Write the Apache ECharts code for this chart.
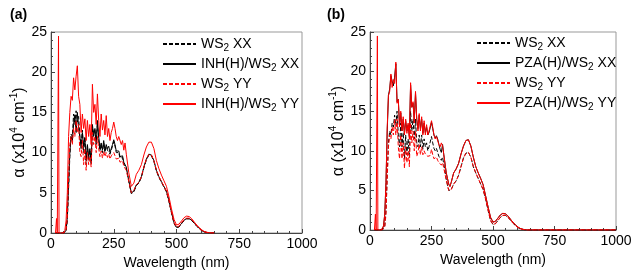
<!DOCTYPE html>
<html><head><meta charset="utf-8">
<script src="https://cdn.jsdelivr.net/npm/echarts@6/dist/echarts.min.js"></script>
<style>html,body{margin:0;padding:0;background:#fff}#c{width:640px;height:280px}</style>
</head><body><div id="c"></div>
<script>
// Wavelength grid (nm)
var wavelength = [18,22,25,28,30,32,35,
 40,45,50,55,60,65,70,75,80,85, 90,95,100,105,110,115,120,125,130,135,
 140,145,150,155,160,165,170,175,180,185, 190,195,200,205,210,215,220,225,230,235,
 240,245,250,255,260,265,270,275,280,285, 290,295,300,
 310,320,325,330,340,350,360,370,380,390, 400,410,420,430,440,450,460,470,480,490,
 500,510,520,530,540,550,560,570,580,590, 600,610,620,630,640,650,
 700,800,900,1000];

// Panel (a)
var aWs2XX = [0,0,0,0,0,0,0,
 0,0,0,0,0.2,1.5,5.5,9.5,12.3,12, 14.8,13.5,15.2,13.8,14.5,12,11,12.8,10,12,
 8.5,10.8,9,10.2,8.5,13,12.5,12.8,11.5,13.5, 11.5,10.2,11,10,11.2,10,10.8,10.3,10.5,9.8,
 10.3,10.8,11.4,10.8,10,9.8,10,9.3,9.2,9.4, 8.6,8.8,8,
 6.4,4.9,4.7,5.1,5.9,6.2,6.9,8.1,9.1,9.7, 9.6,8.9,7.7,6.9,6.3,5.7,5.1,3.9,2.5,1.2,
 0.65,0.75,1.15,1.55,1.75,1.75,1.55,1.25,0.85,0.55, 0.3,0.13,0.06,0.02,0,0];
var aInhXX = [0,0,0,0,0,0,0,
 0,0,0,0,0.3,2,6,10,12,11.5, 13.5,14.7,12.5,15,13,12,10.5,12.5,10.8,11.8,
 9,11,9.5,10.5,9,13.5,12,13,11,14, 12,10.5,11.2,10.3,11.5,10.2,11,10.5,10.8,10,
 10.5,11,11.6,11,10.2,10,10.2,9.5,9.3,9.6, 8.8,9,8.2,
 6.5,5,4.8,5.2,6,6.3,7,8.2,9.2,9.8, 9.7,9,7.8,7,6.4,5.8,5.2,4,2.6,1.3,
 0.7,0.8,1.2,1.6,1.8,1.8,1.6,1.3,0.9,0.6, 0.35,0.15,0.08,0.02,0,0];
var aWs2YY = [0,0,0,0,0,0,0,
 0,0,0,0,0.3,2,7,11,12,11, 13,12,14,12.5,13.5,10,9.5,11.5,8.5,10.5,
 7.8,10,8.5,9.5,8.2,12.5,11,12,10,12, 10.5,9.5,10.2,9.3,10.2,9.5,10,9.4,9.8,9.2,
 9.6,9.5,10,9.6,9.2,9,9.3,8.8,8.7,9, 8.3,8.5,7.8,
 6.4,5,4.9,5.3,6,6.3,7,8.2,9.2,9.8, 9.7,9,7.8,7,6.4,5.8,5.2,4,2.6,1.3,
 0.75,0.85,1.25,1.65,1.85,1.85,1.65,1.35,0.95,0.6, 0.35,0.15,0.08,0.02,0,0];
var aInhYY = [0,1.8,0,0,24.5,0,0,
 0,0,0,0.3,1.5,5,12,15,17,16.5, 19.3,17.8,19.5,20.8,17,16,12.5,14.8,13,14.2,
 11.5,14,12,13.5,11,18.5,15,16,13.5,17.3, 14,12,14.8,12.8,14,12.2,14.6,12,13,11.5,
 12.5,13,13.8,13,12,11.5,12,11.8,11,11.5, 10.3,11.2,9.8,
 7.5,5.8,5.6,6.2,7.3,7.8,8.5,9.7,10.7,11.3, 11.3,10.5,9,8,7.2,6.5,5.8,4.5,3,1.7,
 1,1.1,1.5,1.9,2.1,2.05,1.8,1.4,1,0.7, 0.4,0.2,0.1,0.03,0,0];

// Panel (b)
var bWs2XX = [0,0,0,0,0,0,0,
 0,0,0,0.1,0.5,2.5,7,11,12.5,12, 13.5,13,14.5,13.2,15,12,10.5,13.5,10.5,12.3,
 9,12,9.5,11.5,9.2,15,12.5,14,11.5,14, 11,10.5,12,10.5,12,10.2,11.5,10.5,11,10,
 10.5,10.5,11.8,11,10.3,10,10.3,9.8,9.3,9.5, 8.8,9.2,8.3,
 6.4,5,4.8,5.1,5.8,6.2,6.9,8,9.1,9.7, 9.8,9.2,8,7.2,6.5,5.8,5.1,3.9,2.5,1.2,
 0.7,0.8,1.2,1.6,1.85,1.85,1.6,1.3,0.9,0.6, 0.35,0.15,0.08,0.02,0,0,
 0,0,0,0];
var bPzaXX = [0,0,0,0,0,0,0,
 0,0,0.1,0.5,2,6,12.5,17,17.8,19.5, 18.8,18.2,19.3,21,16.2,16.5,13.2,14.8,12.5,14,
 12.2,13.8,12.5,13.3,11.8,18.3,15.5,16,13.8,17.3, 14,12.8,14.5,12.8,14,12.2,13.5,12.3,13,12,
 12.3,12.5,13.6,12.8,12,11.6,11.9,11.5,10.8,10.2, 9.8,10.8,9.5,
 7.2,5.8,5.5,6,7.2,7.7,8.4,9.6,10.6,11.3, 11.4,10.6,9.2,8,7.2,6.5,5.7,4.3,2.9,1.6,
 1,1.1,1.5,1.9,2.1,2.05,1.8,1.4,1,0.7, 0.4,0.2,0.1,0.03,0,0,
 0,0,0,0];
var bWs2YY = [0,0,0,0,0,0,0,
 0,0,0,0.1,0.4,2,6.5,10.5,12,11.5, 13,12,14,12,14,10.5,9,12,9,11,
 7.8,10.5,8.5,10,8,13.5,11,12.5,10,12.5, 9.3,9.8,10.8,9.5,10.5,9.5,10,9.6,9.8,9.3,
 9.5,9.4,10.2,9.5,9,9,9.2,8.8,8.5,8.7, 8.2,8.5,7.8,
 6.3,5,4.8,5.1,5.8,6.2,6.9,8,9.1,9.7, 9.8,9.2,8,7.2,6.5,5.8,5.1,3.9,2.5,1.2,
 0.7,0.8,1.2,1.6,1.85,1.85,1.6,1.3,0.9,0.6, 0.35,0.15,0.08,0.02,0,0,
 0,0,0,0];
var bPzaYY = [0,2,0,0,24.5,0,0,
 0,0,0.1,0.5,2,6,13,17,17.5,19.7, 18,19,18.5,21.2,16,16.5,13,15,12.5,14.3,
 12,14,12.2,13.5,11.5,18.6,15.5,16.2,13.5,17.5, 14,12.5,14.7,12.5,14.3,12,13.8,12,13.3,12,
 12.5,12.3,13.8,13,12,11.5,11.8,11.7,10.8,10.5, 11,10.6,9.5,
 7.2,5.8,5.5,6,7.2,7.7,8.4,9.6,10.6,11.3, 11.4,10.6,9.2,8,7.2,6.5,5.7,4.3,2.9,1.6,
 1,1.1,1.5,1.9,2.1,2.05,1.8,1.4,1,0.7, 0.4,0.2,0.1,0.03,0,0,
 0,0,0,0];

var xTicks = {min: 0, max: 1000, interval: 250};
var yTicks = {min: 0, max: 25, interval: 5};
var namesA = ['WS2 XX', 'INH(H)/WS2 XX', 'WS2 YY', 'INH(H)/WS2 YY'];
var namesB = ['WS2 XX', 'PZA(H)/WS2 XX', 'WS2 YY', 'PZA(H)/WS2 YY'];

function pairs(ys) { return ys.map(function (v, i) { return [wavelength[i], v]; }); }

var FONT = 'Liberation Sans, Arial, sans-serif';
var richText = {
  n: {fontSize: 14, fontFamily: FONT, color: '#000', lineHeight: 18},
  s: {fontSize: 10, fontFamily: FONT, color: '#000', lineHeight: 10, verticalAlign: 'bottom'}
};
var richName = {
  n: {fontSize: 16, fontFamily: FONT, color: '#000', lineHeight: 20},
  p: {fontSize: 10, fontFamily: FONT, color: '#000', lineHeight: 10, verticalAlign: 'top'}
};
function legendFmt(name) { return name.replace(/^(.*?)WS2(.*)$/, '{n|$1WS}{s|2}{n|$2}'); }

function xAxis(gi, gap) {
  return {type: 'value', gridIndex: gi, min: xTicks.min, max: xTicks.max, interval: xTicks.interval,
    name: 'Wavelength (nm)', nameLocation: 'middle', nameGap: gap,
    nameTextStyle: {fontSize: 14, fontFamily: FONT, color: '#000'},
    axisLine: {show: true, onZero: false, lineStyle: {color: '#444', width: 1}},
    axisTick: {show: true, inside: true, length: 4, lineStyle: {color: '#444'}},
    minorTick: {show: true, splitNumber: 5, length: 2, lineStyle: {color: '#444'}},
    axisLabel: {fontSize: 14, fontFamily: FONT, color: '#000', margin: 4,
      formatter: function (v) { return String(v); }},
    splitLine: {show: false}};
}
function yAxis(gi, gap) {
  return {type: 'value', gridIndex: gi, min: yTicks.min, max: yTicks.max, interval: yTicks.interval,
    name: '{n|α (x10}{p|4}{n| cm}{p|-1}{n|)}', nameLocation: 'middle', nameGap: gap, nameRotate: 90,
    nameTextStyle: {rich: richName},
    axisLine: {show: true, onZero: false, lineStyle: {color: '#444', width: 1}},
    axisTick: {show: true, inside: true, length: 4, lineStyle: {color: '#444'}},
    minorTick: {show: true, splitNumber: 5, length: 2, lineStyle: {color: '#444'}},
    axisLabel: {fontSize: 14, fontFamily: FONT, color: '#000', margin: 4},
    splitLine: {show: false}};
}
function line(name, data, gi, color, dashed) {
  return {type: 'line', name: name, xAxisIndex: gi, yAxisIndex: gi, data: pairs(data),
    symbol: 'none', showSymbol: false, animation: false,
    lineStyle: {color: color, width: 1, type: dashed ? [4, 2] : 'solid'},
    itemStyle: {color: color}};
}
function legend(left, top, names) {
  return {orient: 'vertical', left: left, top: top, padding: 0, itemGap: 4,
    itemWidth: 33, itemHeight: 14, data: names, formatter: legendFmt,
    textStyle: {rich: richText}, lineStyle: {width: 2},
    itemStyle: {opacity: 0, color: 'transparent', borderColor: 'transparent', borderWidth: 0},
    selectedMode: false};
}

var chart = echarts.init(document.getElementById('c'), null, {renderer: 'canvas'});
chart.setOption({
  backgroundColor: '#fff',
  animation: false,
  title: [
    {text: '(a)', left: 10, top: 8, padding: 0, textStyle: {fontSize: 14, fontWeight: 'bold', fontFamily: FONT, color: '#000'}},
    {text: '(b)', left: 327, top: 8, padding: 0, textStyle: {fontSize: 14, fontWeight: 'bold', fontFamily: FONT, color: '#000'}}
  ],
  grid: [
    {left: 51, top: 32, width: 251, height: 201, show: true, borderColor: '#999', borderWidth: 1, backgroundColor: 'transparent'},
    {left: 370, top: 32, width: 246, height: 198, show: true, borderColor: '#999', borderWidth: 1, backgroundColor: 'transparent'}
  ],
  xAxis: [xAxis(0, 16), xAxis(1, 19)],
  yAxis: [yAxis(0, 12), yAxis(1, 17)],
  legend: [legend(162, 37, namesA), legend(476, 36, namesB)],
  series: [
    line(namesA[0], aWs2XX, 0, '#000', true),
    line(namesA[1], aInhXX, 0, '#000', false),
    line(namesA[2], aWs2YY, 0, '#ff0000', true),
    line(namesA[3], aInhYY, 0, '#ff0000', false),
    line(namesB[0], bWs2XX, 1, '#000', true),
    line(namesB[1], bPzaXX, 1, '#000', false),
    line(namesB[2], bWs2YY, 1, '#ff0000', true),
    line(namesB[3], bPzaYY, 1, '#ff0000', false)
  ]
});
</script></body></html>
